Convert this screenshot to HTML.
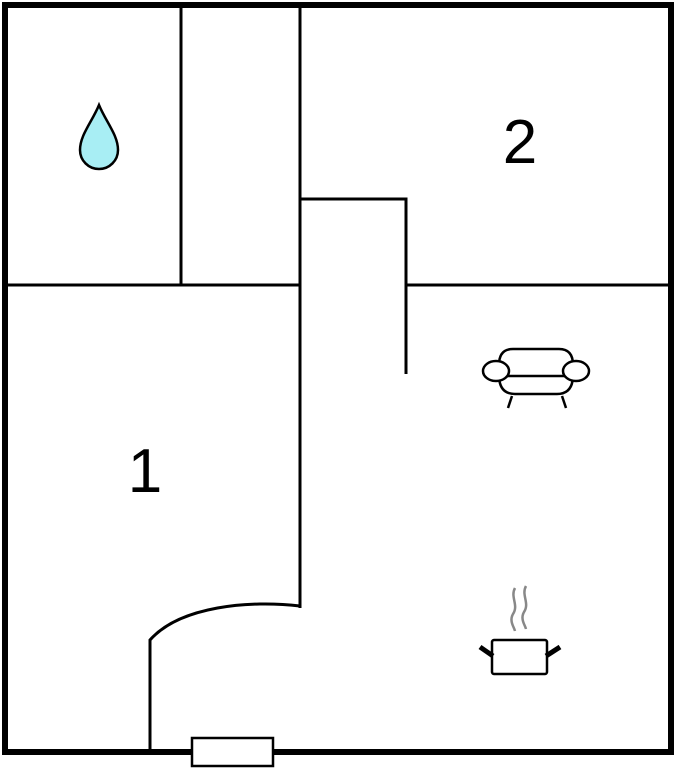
<!DOCTYPE html>
<html><head><style>body{margin:0;background:#fff}svg{display:block}</style></head><body>
<svg width="676" height="768" viewBox="0 0 676 768" xmlns="http://www.w3.org/2000/svg">
<rect x="5" y="5" width="666" height="747" fill="#fff" stroke="#000" stroke-width="6"/>
<g stroke="#000" stroke-width="3" fill="none">
<line x1="181" y1="5" x2="181" y2="285"/>
<line x1="300" y1="5" x2="300" y2="608"/>
<line x1="5" y1="285" x2="300" y2="285"/>
<line x1="406" y1="285" x2="671" y2="285"/>
<polyline points="300,199 406,199 406,374"/>
<path d="M300,606 C250,600 180,606 150,640 L150,752"/>
</g>
<rect x="192" y="738" width="81" height="28" fill="#fff" stroke="#000" stroke-width="2.5"/>
<path d="M99,105 C92,122 80,135 80,150 A19,19 0 0 0 118,150 C118,135 106,122 99,105 Z" fill="#a8eef4" stroke="#000" stroke-width="2.5"/>
<text x="520" y="163" font-family="Liberation Sans, sans-serif" font-size="62" text-anchor="middle">2</text>
<text x="145" y="492" font-family="Liberation Sans, sans-serif" font-size="62" text-anchor="middle">1</text>
<g stroke="#000" stroke-width="2.5" fill="#fff">
<path d="M499,365 Q499,349 513,349 L559,349 Q573,349 573,365"/>
<path d="M499,375 Q499,394 515,394 L557,394 Q573,394 573,375"/>
<line x1="505" y1="376" x2="577" y2="376"/>
<ellipse cx="496" cy="371" rx="13" ry="10"/>
<ellipse cx="576" cy="371" rx="13" ry="10"/>
<line x1="512" y1="396" x2="508" y2="408"/>
<line x1="562" y1="396" x2="566" y2="408"/>
<rect x="492" y="640" width="55" height="34" rx="2"/>
</g>
<g stroke="#000" stroke-width="5"><line x1="480" y1="647" x2="493" y2="656"/><line x1="546" y1="656" x2="560" y2="647"/></g>
<g stroke="#888" stroke-width="2.5" fill="none">
<path d="M515,588 C510,597 519,605 513,614 C509,621 514,627 515,631"/>
<path d="M526,586 C521,595 530,603 524,612 C520,619 525,625 526,629"/>
</g>
</svg>
</body></html>
